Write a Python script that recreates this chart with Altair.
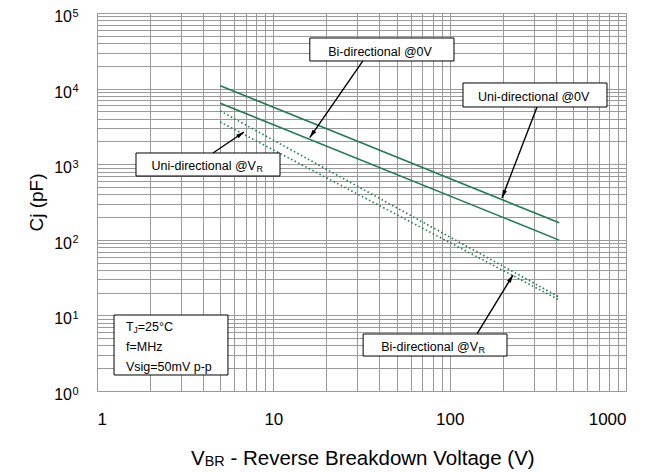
import math
import altair as alt
import pandas as pd

# ---------------- data ----------------
series = ["Uni-directional @0V", "Bi-directional @0V", "Uni-directional @VR", "Bi-directional @VR"]
v_start = [5, 5, 5, 5]
v_end = [418, 418, 418, 418]
c_start = [10900, 6400, 5060, 3615]
c_end = [168, 99, 17.5, 16]
is_dotted = [False, False, True, True]

x_ticks = [1, 10, 100, 1000]
y_decades = [1, 10, 100, 1000, 10000, 100000]
y_exp = ["0", "1", "2", "3", "4", "5"]

# annotation boxes (data coordinates)
box_x1 = [16.1, 119, 1.664, 32.3, 1.249]
box_x2 = [105.8, 780, 10.91, 211.4, 5.53]
box_y1 = [23200, 5710, 698, 2.90, 1.628]
box_y2 = [46700, 11870, 1407, 5.68, 10.12]

# plain centred labels
plain_text = ["Bi-directional @0V", "Uni-directional @0V"]
plain_x = [40.3, 299.6]
plain_y = [30800, 7820]

# labels with subscript R
sub_main = ["Uni-directional @V", "Bi-directional @V"]
sub_x = [7.97, 144.8]
sub_y = [947, 3.85]

# condition box lines
cond_text = ["f=MHz", "Vsig=50mV p-p"]
cond_x = [1.46, 1.46]
cond_y = [3.82, 2.08]
tj_x, tj_y = 1.46, 7.02

# arrows: start -> tip
arr_x1 = [32.2, 313, 4.55, 142.9]
arr_y1 = [23200, 5710, 1407, 5.68]
arr_x2 = [16.1, 198, 6.82, 228.6]
arr_y2 = [2250, 357, 2668, 34.2]

# ---------------- layout ----------------
W, H = 529, 378
GREEN = "#1f7a52"
FONT = "Liberation Sans"
FS = 12.5

x_grid = [m * 10 ** d for d in range(3) for m in range(1, 10)] + [1000]
y_grid = [m * 10 ** d for d in range(5) for m in range(1, 10)] + [100000]

xs = alt.Scale(type="log", domain=[1, 1000])
ys = alt.Scale(type="log", domain=[1, 100000])

rows = []
for s, a, b, c, d, dt in zip(series, v_start, v_end, c_start, c_end, is_dotted):
    rows.append({"series": s, "V": a, "C": c, "dotted": dt})
    rows.append({"series": s, "V": b, "C": d, "dotted": dt})
lines_df = pd.DataFrame(rows)

X = alt.X("V:Q", scale=xs, title="",
          axis=alt.Axis(values=x_grid, grid=True, ticks=False, domain=False,
                        labelExpr="indexof([1,10,100,1000], datum.value) >= 0 ? format(datum.value, 'd') : ''",
                        labelFontSize=17, labelPadding=20, labelFont=FONT, labelColor="black",
                        gridColor="#9a9a9a", gridWidth=1))
Y = alt.Y("C:Q", scale=ys,
          axis=alt.Axis(values=y_grid, grid=True, ticks=False, domain=False, labels=False,
                        title="Cj (pF)", titleFontSize=19, titleFont=FONT, titleFontWeight="normal",
                        titleColor="black", titleX=-61, titleY=189, titleBaseline="middle",
                        gridColor="#9a9a9a", gridWidth=1))

solid = alt.Chart(lines_df[~lines_df.dotted]).mark_line(color=GREEN, strokeWidth=1.6).encode(
    x=X, y=Y, detail="series:N")
dots = alt.Chart(lines_df[lines_df.dotted]).mark_line(color=GREEN, strokeWidth=1.6, strokeDash=[1.5, 2.5]).encode(
    x=alt.X("V:Q", scale=xs), y=alt.Y("C:Q", scale=ys), detail="series:N")

box_df = pd.DataFrame({"x1": box_x1, "x2": box_x2, "y1": box_y1, "y2": box_y2})
boxes = alt.Chart(box_df).mark_rect(fill="white", stroke="black", strokeWidth=1).encode(
    x=alt.X("x1:Q", scale=xs), x2="x2:Q", y=alt.Y("y1:Q", scale=ys), y2="y2:Q")

plain_df = pd.DataFrame({"t": plain_text, "x": plain_x, "y": plain_y})
plain = alt.Chart(plain_df).mark_text(font=FONT, fontSize=FS, color="black", baseline="middle").encode(
    x=alt.X("x:Q", scale=xs), y=alt.Y("y:Q", scale=ys), text="t:N")

sub_df = pd.DataFrame({"t": sub_main, "x": sub_x, "y": sub_y})
sub_main_l = alt.Chart(sub_df).mark_text(font=FONT, fontSize=FS, color="black", baseline="middle", align="right").encode(
    x=alt.X("x:Q", scale=xs), y=alt.Y("y:Q", scale=ys), text="t:N")
sub_r = alt.Chart(sub_df).mark_text(font=FONT, fontSize=9, color="black", baseline="middle", align="left", dy=3, dx=0.5).encode(
    x=alt.X("x:Q", scale=xs), y=alt.Y("y:Q", scale=ys), text=alt.value("R"))

cond_df = pd.DataFrame({"t": cond_text, "x": cond_x, "y": cond_y})
cond = alt.Chart(cond_df).mark_text(font=FONT, fontSize=FS, color="black", baseline="middle", align="left").encode(
    x=alt.X("x:Q", scale=xs), y=alt.Y("y:Q", scale=ys), text="t:N")
tj_df = pd.DataFrame({"x": [tj_x], "y": [tj_y]})
tj_t = alt.Chart(tj_df).mark_text(font=FONT, fontSize=FS, color="black", baseline="middle", align="left").encode(
    x=alt.X("x:Q", scale=xs), y=alt.Y("y:Q", scale=ys), text=alt.value("T"))
tj_j = alt.Chart(tj_df).mark_text(font=FONT, fontSize=8.5, color="black", baseline="middle", align="left", dx=7.6, dy=3).encode(
    x=alt.X("x:Q", scale=xs), y=alt.Y("y:Q", scale=ys), text=alt.value("J"))
tj_rest = alt.Chart(tj_df).mark_text(font=FONT, fontSize=FS, color="black", baseline="middle", align="left", dx=11.8).encode(
    x=alt.X("x:Q", scale=xs), y=alt.Y("y:Q", scale=ys), text=alt.value("=25°C"))

ang = []
for a, b, c, d in zip(arr_x1, arr_y1, arr_x2, arr_y2):
    dx = W / 3 * (math.log10(c) - math.log10(a))
    dy = -H / 5 * (math.log10(d) - math.log10(b))
    ang.append(math.degrees(math.atan2(dx, -dy)) % 360)
arr_df = pd.DataFrame({"x1": arr_x1, "y1": arr_y1, "x2": arr_x2, "y2": arr_y2, "ang": ang})
arr_lines = alt.Chart(arr_df).mark_rule(color="black", strokeWidth=1.4).encode(
    x=alt.X("x1:Q", scale=xs), y=alt.Y("y1:Q", scale=ys), x2="x2:Q", y2="y2:Q")
arr_heads = alt.Chart(arr_df).mark_point(shape="M0,0L0.55,2L-0.55,2Z", filled=True, color="black",
                                         size=64, opacity=1).encode(
    x=alt.X("x2:Q", scale=xs), y=alt.Y("y2:Q", scale=ys), angle=alt.Angle("ang:Q", scale=None))

yl_df = pd.DataFrame({"v": y_decades, "e": y_exp})
ylab = alt.Chart(yl_df).mark_text(font=FONT, fontSize=16, color="black", baseline="middle", align="right", dy=4).encode(
    x=alt.value(-25), y=alt.Y("v:Q", scale=ys), text=alt.value("10"))
yexp = alt.Chart(yl_df).mark_text(font=FONT, fontSize=11, color="black", baseline="middle", align="left", dy=0.5).encode(
    x=alt.value(-24.5), y=alt.Y("v:Q", scale=ys), text="e:N")

t_df = pd.DataFrame({"k": [0]})
xt_v = alt.Chart(t_df).mark_text(font=FONT, fontSize=20.5, color="black", baseline="middle", align="right").encode(
    x=alt.value(107.7), y=alt.value(446), text=alt.value("V"))
xt_br = alt.Chart(t_df).mark_text(font=FONT, fontSize=14.4, color="black", baseline="middle", align="left", dy=3).encode(
    x=alt.value(107.7), y=alt.value(446), text=alt.value("BR"))
xt_rest = alt.Chart(t_df).mark_text(font=FONT, fontSize=20.5, color="black", baseline="middle", align="left").encode(
    x=alt.value(133.4), y=alt.value(446), text=alt.value("- Reverse Breakdown Voltage (V)"))

chart = alt.layer(
    solid, dots, boxes, plain, sub_main_l, sub_r, cond, tj_t, tj_j, tj_rest,
    arr_lines, arr_heads, ylab, yexp, xt_v, xt_br, xt_rest
).properties(
    width=W, height=H,
    autosize=alt.AutoSizeParams(type="none"),
    padding={"left": 89, "top": 5, "right": 26, "bottom": 81},
).configure_view(stroke="black", strokeWidth=2).configure(background="white")

chart.save("out.html", embed_options={"renderer": "svg", "actions": False})
